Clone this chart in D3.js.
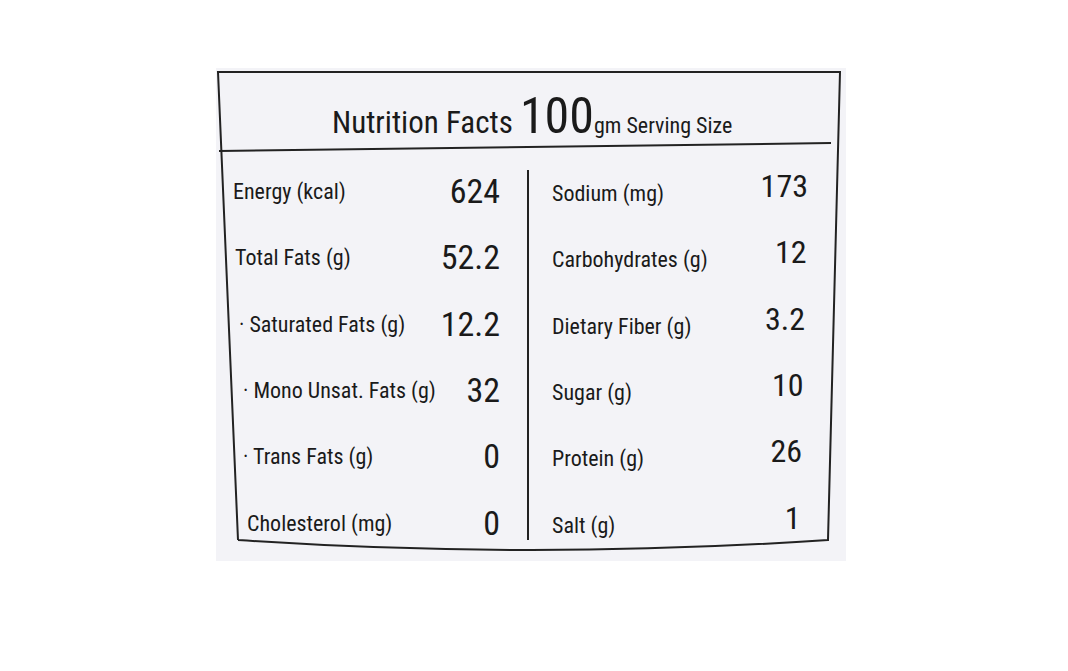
<!DOCTYPE html>
<html><head><meta charset="utf-8">
<script src="https://cdn.jsdelivr.net/npm/d3@7"></script>
<style>body{margin:0;background:#fff}text{font-family:"Liberation Sans Narrow","Roboto Condensed","Liberation Sans",sans-serif;fill:#1a1a1a}</style>
</head><body><svg id="c" width="1068" height="671"></svg>
<script>
const leftLabels=["Energy (kcal)","Total Fats (g)","· Saturated Fats (g)","· Mono Unsat. Fats (g)","· Trans Fats (g)","Cholesterol (mg)"];
const leftValues=["624","52.2","12.2","32","0","0"];
const rightLabels=["Sodium (mg)","Carbohydrates (g)","Dietary Fiber (g)","Sugar (g)","Protein (g)","Salt (g)"];
const rightValues=["173","12","3.2","10","26","1"];
const leftIndent=[0,2,6,10,10,14];
const svg=d3.select("#c");
svg.append("rect").attr("x",216).attr("y",68).attr("width",630).attr("height",493).attr("fill","#f3f3f7");
svg.append("path").attr("d","M238,540 L218,72 L840,72 L828,540 Q530,560 238,540").attr("fill","none").attr("stroke","#222").attr("stroke-width",2);
svg.append("line").attr("x1",219).attr("x2",831).attr("y1",151).attr("y2",143).attr("stroke","#222").attr("stroke-width",2);
svg.append("line").attr("x1",528).attr("x2",528).attr("y1",170).attr("y2",540).attr("stroke","#222").attr("stroke-width",2);
const t=svg.append("text").attr("x",332).attr("y",133);
t.append("tspan").attr("font-size",31).text("Nutrition Facts ");
t.append("tspan").attr("font-size",50).text("100");
t.append("tspan").attr("font-size",22).text("gm Serving Size");
const y=d3.scaleBand().domain(d3.range(6)).range([160,555]);
const g=svg.append("g");
leftLabels.forEach((l,i)=>{
  const yy=y(i)+y.bandwidth()/2+6+i*0.5;
  g.append("text").attr("x",233+leftIndent[i]).attr("y",yy).attr("font-size",22).text(l);
  g.append("text").attr("x",500).attr("y",yy+4).attr("font-size",34).attr("text-anchor","end").text(leftValues[i]);
  g.append("text").attr("x",552).attr("y",yy+2).attr("font-size",22).text(rightLabels[i]);
  g.append("text").attr("x",808-i*1.5).attr("y",yy-2).attr("font-size",32).attr("text-anchor","end").text(rightValues[i]);
});
</script></body></html>
